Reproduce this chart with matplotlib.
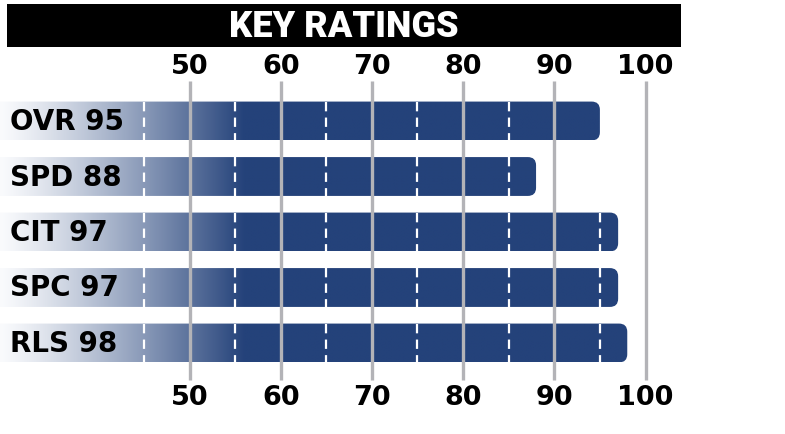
import numpy as np
import matplotlib
matplotlib.use("Agg")
import matplotlib.pyplot as plt
from matplotlib.patches import FancyBboxPatch, Rectangle

# key ratings data
categories = ["OVR", "SPD", "CIT", "SPC", "RLS"]
ratings = [95, 88, 97, 97, 98]
tick_values = [50, 60, 70, 80, 90, 100]
dash_values = [45, 55, 65, 75, 85, 95]

dark = np.array([36, 66, 122]) / 255
light = np.array([250, 251, 253]) / 255

fig = plt.figure(figsize=(7.85, 4.35), dpi=100)
ax = fig.add_axes([0, 0, 1, 1])
ax.set_axis_off()

# scale: 9.12 px per rating point, 50 sits at px 189.5 ; rows are 55.5 px apart, first at px 122
xmin, xmax = 50 - 189.5 / 9.12, 50 + 595.5 / 9.12
ymin, ymax = -122 / 55.5, (435 - 122) / 55.5
bar_h = 0.70
asp = (1 / 55.5) / (1 / 9.12)

for i, (cat, val) in enumerate(zip(categories, ratings)):
    x0 = xmin - 3
    patch = FancyBboxPatch((x0, i - bar_h / 2), val - x0, bar_h,
                           boxstyle="round,pad=0,rounding_size=0.9",
                           mutation_aspect=asp, facecolor="none", edgecolor="none")
    ax.add_patch(patch)
    xs = np.linspace(x0, val, 600)
    t = np.clip((xs - xmin) / (56 - xmin), 0, 1)[:, None]
    t = t ** 1.2
    grad = (light * (1 - t) + dark * t)[None, :, :]
    im = ax.imshow(grad, extent=[x0, val, i + bar_h / 2, i - bar_h / 2],
                   aspect="auto", interpolation="bilinear", zorder=2)
    im.set_clip_path(patch)
    for d in dash_values:
        if d < val - 0.3:
            ax.vlines(d, i - bar_h / 2, i + bar_h / 2, colors="white",
                      linestyles=(0, (4.2, 2.8)), lw=1.6, zorder=4)
    ax.annotate(f"{cat} {val}", xy=(10 / 785, i), xycoords=("axes fraction", "data"),
                ha="left", va="center", fontsize=20, fontweight="bold",
                family="DejaVu Sans", color="black")

ax.vlines(tick_values, -0.72, 4.667, colors="#b3b3b7", lw=2.4, zorder=3)
for v in tick_values:
    ax.text(v, -1.0, str(v), ha="center", va="center", fontsize=19.5,
            fontweight="bold", family="DejaVu Sans")
    ax.text(v, 4.98, str(v), ha="center", va="center", fontsize=19.5,
            fontweight="bold", family="DejaVu Sans")

# title bar
ax.add_patch(Rectangle((7 / 785, 1 - 48 / 435), 674 / 785, 43 / 435,
                       transform=ax.transAxes, facecolor="black", edgecolor="none"))
ax.text(344 / 785, 1 - 27 / 435, "KEY RATINGS", transform=ax.transAxes,
        ha="center", va="center", color="white", fontsize=26, fontweight="black",
        family="Roboto")

ax.set_xlim(xmin, xmax)
ax.set_ylim(ymax, ymin)

plt.savefig("out.png", dpi=100)
